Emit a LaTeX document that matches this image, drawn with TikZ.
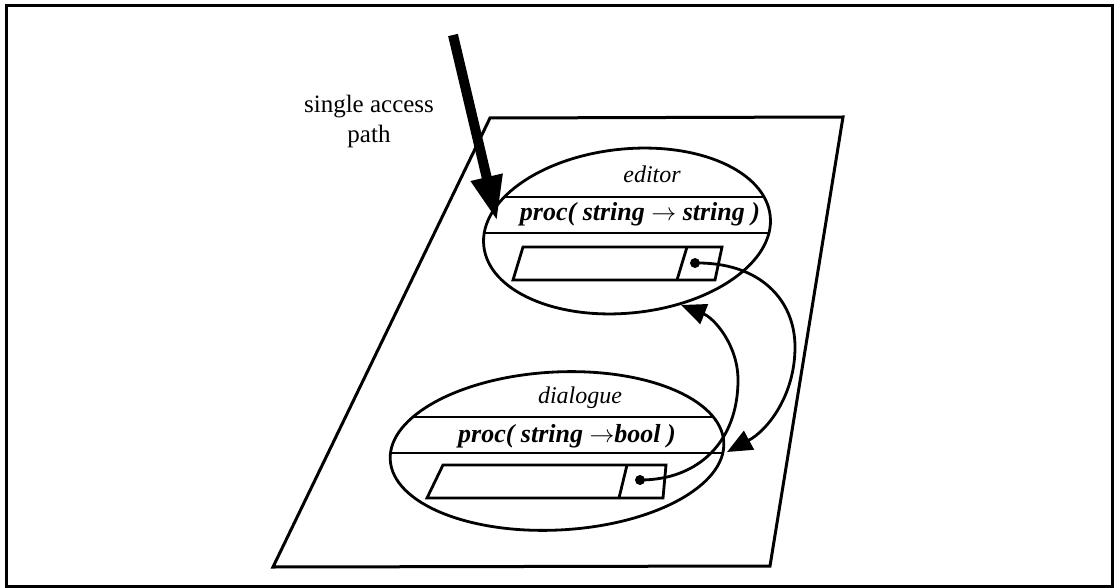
\documentclass[tikz,border=0pt]{standalone}
\usepackage{fontspec}
\setmainfont{Liberation Serif}
\usetikzlibrary{arrows.meta,shapes.geometric}
\tikzset{
  frame/.style={line width=3pt},
  thin/.style={line width=2.8pt},
  lbl/.style={font=\fontsize{25}{30}\selectfont, inner sep=0pt},
  hdr/.style={font=\fontsize{24}{28}\selectfont\itshape, inner sep=0pt, anchor=base},
  sig/.style={font=\fontsize{26}{30}\selectfont\bfseries\itshape, inner sep=0pt, anchor=base},
  ptr/.style={line width=2.8pt, -{Triangle[length=25pt,width=21pt]}},
  dotc/.style={circle, fill=black, inner sep=0pt, minimum size=10pt},
}
\begin{document}
\begin{tikzpicture}[x=1pt,y=-1pt]
\useasboundingbox (0,0) rectangle (1116,588);
\draw[frame] (6,6) rectangle (1112,586);
% plane
\draw[frame,line join=miter] (490,118) -- (843,117) -- (770,566) -- (273,567) -- cycle;
% editor module
\node[draw, ellipse, thin, minimum width=288pt, minimum height=164pt, rotate=6] (edell) at (627,231) {};
\begin{scope}
  \clip[rotate around={6:(627,231)}] (627,231) ellipse [x radius=144, y radius=82];
  \draw[thin] (470,197) -- (790,197);
  \draw[thin] (470,233) -- (790,233);
\end{scope}
\node[hdr] (edname) at (652,183) {editor};
\node[sig] (edsig) at (640,221) {proc( string $\rightarrow$ string )};
\draw[thin] (523,247) -- (722,247) -- (715,280) -- (513,280) -- cycle;
\draw[thin] (687,247) -- (677,280);
\node[dotc] (eddot) at (695,263) {};
% dialogue module
\node[draw, ellipse, thin, minimum width=334pt, minimum height=158pt, rotate=3] (dlell) at (557,451) {};
\begin{scope}
  \clip[rotate around={3:(557,451)}] (557,451) ellipse [x radius=167, y radius=79];
  \draw[thin] (380,417) -- (740,417);
  \draw[thin] (380,453) -- (740,453);
\end{scope}
\node[hdr] (dlname) at (580,403) {dialogue};
\node[sig] (dlsig) at (567,442) {proc( string $\rightarrow$bool )};
\draw[thin] (443,465) -- (666,465) -- (663,498) -- (427,498) -- cycle;
\draw[thin] (627,465) -- (619,498);
\node[dotc] (dldot) at (640,480) {};
% pointers
\coordinate (edin) at (681,305);
\coordinate (dlin) at (727,452);
\draw[ptr] (eddot.center) .. controls (760,262) and (795,300) .. (795,347)
   .. controls (795,395) and (768,430) .. (dlin);
\draw[ptr] (dldot.center) .. controls (700,480) and (738,440) .. (738,380)
   .. controls (738,345) and (714,318) .. (edin);
% access path
\coordinate (accstart) at (453,35);
\coordinate (accend) at (497,221);
\draw[line width=10pt, -{Triangle[length=45pt,width=30pt]}] (accstart) -- (accend);
\node[lbl, align=center] (acclbl) at (369,121) {single access\\path};
\end{tikzpicture}
\end{document}
